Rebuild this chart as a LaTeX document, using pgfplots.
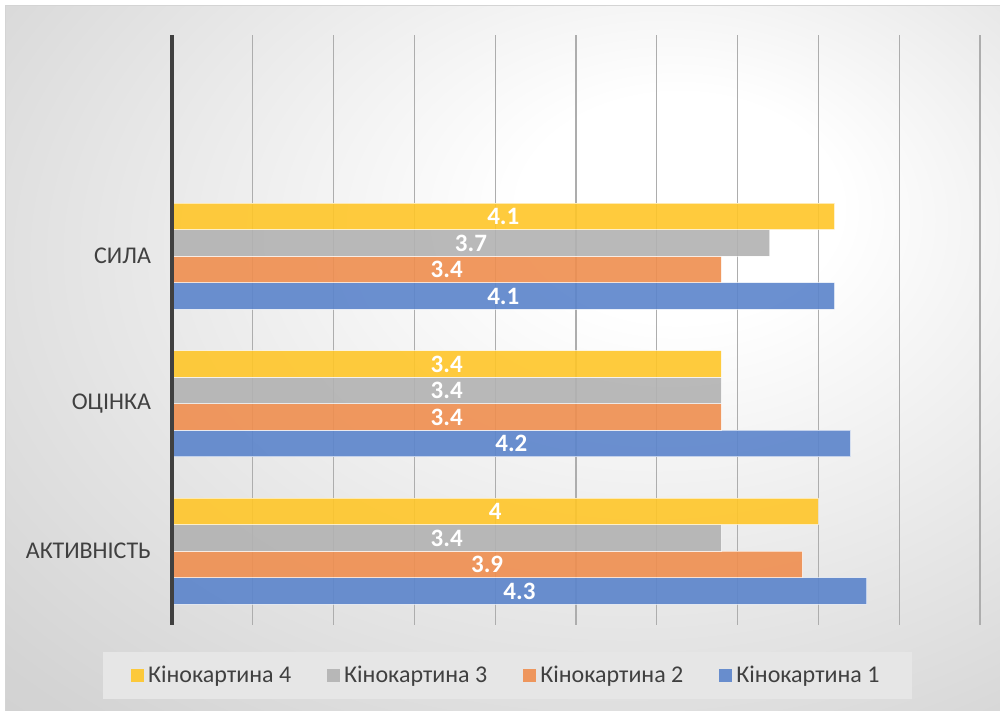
\documentclass[border=0pt]{standalone}
\usepackage{fontspec}
\setmainfont{Carlito}
\usepackage{pgfplots}
\usepackage{pgfplotstable}
\pgfplotsset{compat=1.18}
\definecolor{c1}{HTML}{5B84CB}
\definecolor{c2}{HTML}{EF8E4F}
\definecolor{c3}{HTML}{B2B2B2}
\definecolor{c4}{HTML}{FFC629}
\definecolor{txt}{HTML}{404040}
\definecolor{gridc}{HTML}{ADADAD}
\definecolor{legbg}{HTML}{E6E6E6}
\definecolor{framec}{HTML}{D4D4D4}
\pgfdeclareradialshading{bgshade}{\pgfpoint{10bp}{12bp}}{color(0bp)=(white); color(8bp)=(white); color(40bp)=(black!17); color(75bp)=(black!27)}
\pgfplotstableread{
cat a1 a2 a3 a4
0 4.3 3.9 3.4 4
1 4.2 3.4 3.4 3.4
2 4.1 3.4 3.7 4.1
}\data
\begin{document}
\begin{tikzpicture}
\useasboundingbox (0,0) rectangle (500pt,355.5pt);
\fill[white] (0,0) rectangle (500pt,355.5pt);
\shade[shading=bgshade] (2.5pt,0pt) rectangle (500pt,352.5pt);
\draw[framec, line width=0.5pt] (2.5pt,0pt) -- (2.5pt,352.5pt) -- (500pt,352.5pt);
\begin{axis}[
  at={(86pt,43pt)}, anchor=south west,
  scale only axis, width=404pt, height=295pt,
  xmin=0, xmax=5, ymin=-0.5, ymax=3.5,
  clip=false,
  xtick={0,0.5,...,5}, xticklabels={},
  xmajorgrids, grid style={color=gridc, line width=0.6pt},
  ytick={0,1,2,3}, yticklabels={АКТИВНІСТЬ, ОЦІНКА, СИЛА, {}},
  yticklabel style={font=\fontsize{12}{14}\selectfont, text=txt, xshift=-7pt},
  axis line style={draw=none},
  tick style={draw=none}, major tick length=0pt,
  xbar, bar width=13.25pt,
  /pgf/number format/assume math mode=true,
  /pgf/number format/.cd, fixed, precision=1, /pgfplots/.cd,
  nodes near coords,
  every node near coord/.append style={anchor=center, text=white,
     font=\bfseries\fontsize{12.5}{14}\selectfont, xshift={-40.4pt*\val}},
  reverse legend,
  legend columns=4,
  legend style={at={(0.415,-0.0856)}, anchor=center, fill=legbg, draw=none,
     inner xsep=14pt, inner ysep=5pt,
     font=\fontsize{12}{14}\selectfont, text=txt,
     /tikz/every even column/.append style={column sep=16pt}},
  legend image code/.code={\fill[#1, draw=none] (0pt,-3.25pt) rectangle (6.5pt,3.25pt);},
  every axis plot/.append style={draw=white, draw opacity=0.6, line width=0.6pt, fill opacity=0.9, text opacity=1},
]
\addplot[fill=c1, bar shift=-19.875pt, visualization depends on={\thisrow{a1} \as \val}] table[x=a1, y=cat] {\data};
\addplot[fill=c2, bar shift=-6.625pt, visualization depends on={\thisrow{a2} \as \val}] table[x=a2, y=cat] {\data};
\addplot[fill=c3, bar shift=6.625pt, visualization depends on={\thisrow{a3} \as \val}] table[x=a3, y=cat] {\data};
\addplot[fill=c4, bar shift=19.875pt, visualization depends on={\thisrow{a4} \as \val}] table[x=a4, y=cat] {\data};
\legend{Кінокартина 1, Кінокартина 2, Кінокартина 3, Кінокартина 4}
\draw[txt, line width=1.6pt] (axis cs:0,-0.5) -- (axis cs:0,3.5);
\end{axis}
\end{tikzpicture}
\end{document}
